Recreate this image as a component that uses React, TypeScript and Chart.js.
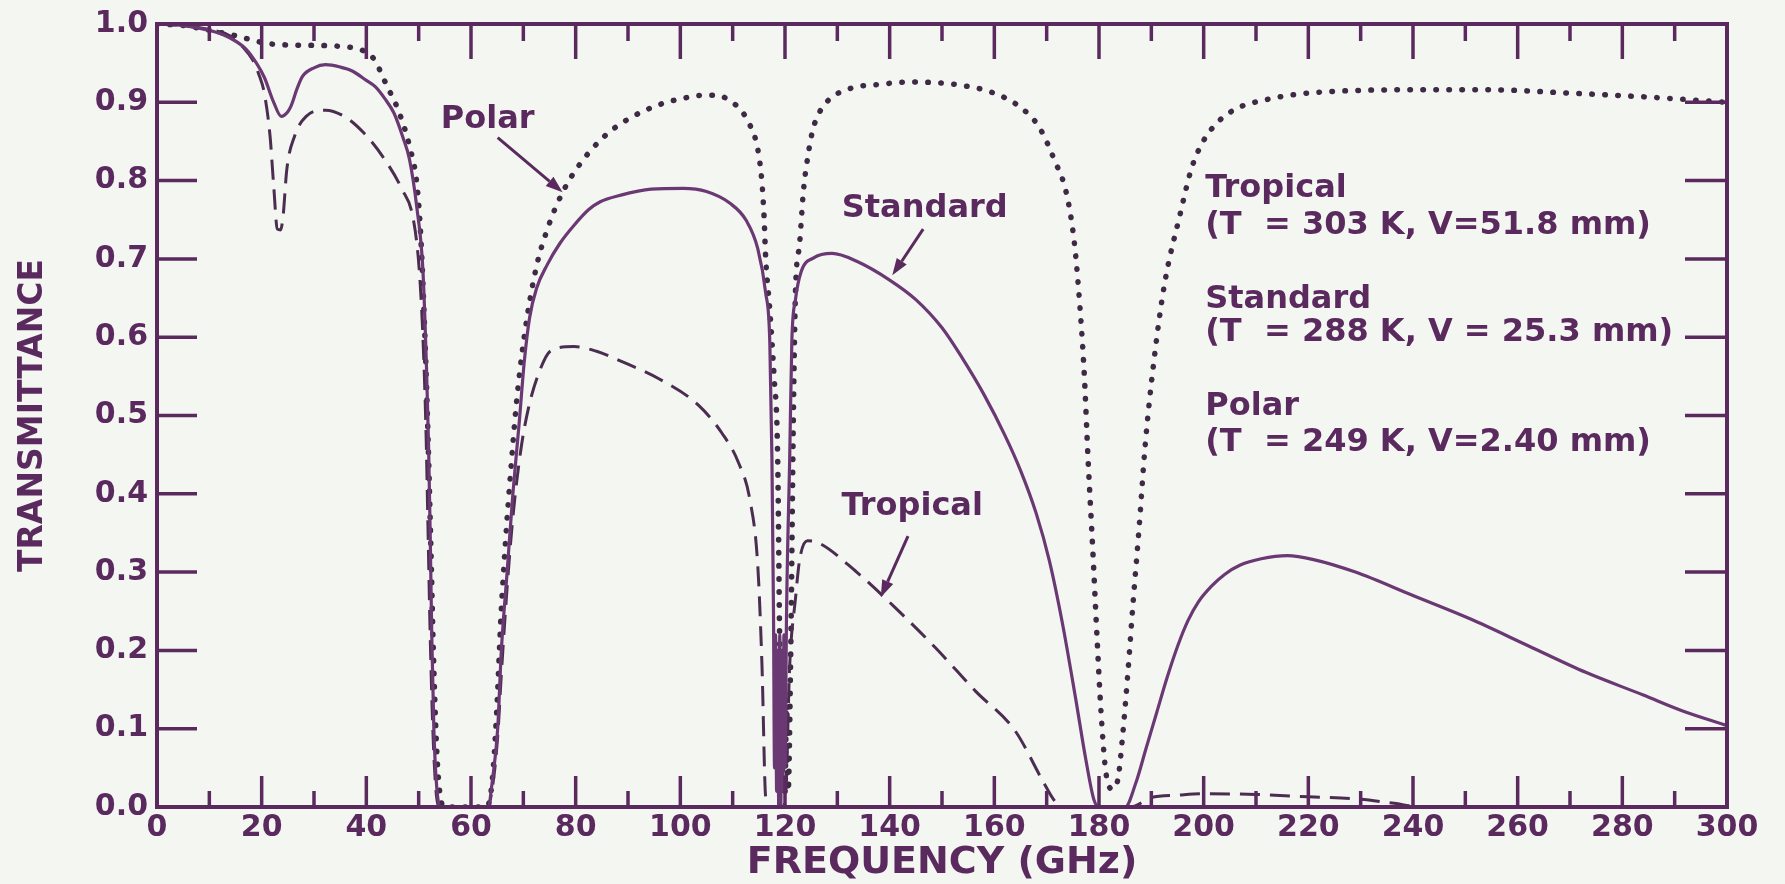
import { useEffect, useRef } from "react";
import { Chart, registerables } from "chart.js";

Chart.register(...registerables);

const WIDTH = 1785;
const HEIGHT = 884;

const INK = "#5a2a5e";
const SOLID = "#6a3873";
const DASHED = "#4b2d50";
const DOTTED = "#3e2a44";
const PAPER = "#f4f6f2";
const FONT = "'DejaVu Sans', 'Liberation Sans', Arial, sans-serif";

// Standard atmosphere (T = 288 K, V = 25.3 mm)
const standardFreq = [
  0, 5, 11, 14, 17, 19, 20.5, 22.3, 23.75, 25, 25.6, 26.8, 27.8, 30, 32.2, 35, 37.3, 40, 41.7, 43.5,
  45.3, 47, 48.25, 49.7, 50.8, 51.5, 51.9, 52.2, 52.5, 52.9, 53.4, 54.1, 60, 63.2, 64.2, 65.1, 65.8, 66.9, 68, 69.2,
  70.2, 71.2, 72.5, 74.6, 77, 79.7, 82.5, 84.7, 88.4, 94.4, 100.5, 105, 109.5, 112.6, 114.8, 116.3, 117.1, 117.5, 117.8, 118,
  118.2, 118.4, 118.6, 118.8, 119, 119.2, 119.4, 119.6, 119.8, 120, 120.3, 120.9, 121.3, 122, 123.1, 125.4, 129, 133.7, 140, 145,
  150, 154, 158, 162, 165, 168, 170.5, 173, 175.5, 177.5, 179, 180, 183, 185, 187, 189, 191, 193, 195, 197,
  199, 201.5, 204, 207, 211, 216, 221, 229, 240, 251, 262, 273, 284, 291.4, 300,
];
const standardTrans = [
  1.0, 0.998, 0.99, 0.982, 0.968, 0.95, 0.932, 0.9, 0.882, 0.888, 0.895, 0.918, 0.933, 0.944, 0.948, 0.945, 0.94, 0.928, 0.92, 0.905,
  0.886, 0.855, 0.827, 0.763, 0.687, 0.56, 0.46, 0.35, 0.22, 0.1, 0.03, 0.0, 0.0, 0.0, 0.04, 0.1, 0.2, 0.3, 0.4, 0.49,
  0.57, 0.625, 0.662, 0.693, 0.72, 0.743, 0.763, 0.773, 0.781, 0.789, 0.79, 0.786, 0.771, 0.749, 0.713, 0.657, 0.593, 0.446, 0.25, 0.05,
  0.22, 0.02, 0.2, 0.0, 0.22, 0.0, 0.2, 0.02, 0.22, 0.05, 0.25, 0.446, 0.593, 0.648, 0.684, 0.701, 0.707, 0.697, 0.673, 0.648,
  0.612, 0.572, 0.527, 0.475, 0.43, 0.375, 0.315, 0.235, 0.14, 0.06, 0.01, 0.0, 0.0, 0.0, 0.03, 0.075, 0.12, 0.165, 0.205, 0.238,
  0.262, 0.282, 0.297, 0.309, 0.317, 0.321, 0.316, 0.3, 0.27, 0.24, 0.206, 0.172, 0.143, 0.123, 0.104,
];

// Tropical atmosphere (T = 303 K, V = 51.8 mm)
const tropicalFreq = [
  0, 5, 10, 13.9, 16.5, 18.3, 19.5, 20.5, 21.6, 22.3, 23, 23.6, 24.1, 24.8, 26.3, 28.5, 32.2, 35.8, 39.5, 43.1,
  46.8, 49, 50.1, 50.8, 51.4, 51.8, 52.2, 52.7, 53.2, 53.8, 63.2, 64.2, 65.1, 65.8, 66.9, 68, 69.5, 71, 73, 75.3,
  79.7, 84, 88.4, 95.9, 103.5, 108, 111.1, 113.3, 114.8, 115.6, 116.3, 117, 119.5, 120.1, 120.9, 122, 122.8, 124.3, 126.2, 133.7,
  141.3, 148.8, 156.4, 164, 169.2, 171.5, 173, 186, 190, 195, 200, 210, 220, 230, 236, 242, 300,
];
const tropicalTrans = [
  1.0, 0.998, 0.993, 0.985, 0.97, 0.954, 0.935, 0.912, 0.857, 0.793, 0.738, 0.737, 0.755, 0.814, 0.857, 0.882, 0.89, 0.882, 0.861, 0.831,
  0.789, 0.75, 0.687, 0.602, 0.48, 0.35, 0.22, 0.1, 0.03, 0.0, 0.0, 0.03, 0.09, 0.17, 0.28, 0.37, 0.455, 0.51, 0.555, 0.583,
  0.588, 0.582, 0.57, 0.547, 0.513, 0.477, 0.44, 0.392, 0.308, 0.181, 0.013, 0.0, 0.0, 0.013, 0.181, 0.266, 0.316, 0.34, 0.338, 0.3,
  0.253, 0.203, 0.148, 0.097, 0.034, 0.008, 0.0, 0.0, 0.012, 0.015, 0.017, 0.016, 0.013, 0.01, 0.005, 0.0, 0.0,
];

// Polar atmosphere (T = 249 K, V = 2.40 mm)
const polarFreq = [
  0, 5, 10, 15, 21.2, 27, 35.8, 40.2, 41.8, 43.1, 44.6, 46.1, 48.25, 49.7, 50.4, 51.2, 51.8, 52.3, 52.8, 53.4,
  54.1, 55, 63, 64, 64.9, 65.7, 66.6, 67.6, 68.7, 70.2, 72.4, 74.8, 77.5, 80.8, 85.4, 89.9, 96, 101.2, 104.3, 106.9,
  109.5, 111.8, 113.3, 114.8, 115.6, 116, 116.3, 117.1, 117.9, 118.6, 119, 119.4, 119.7, 120, 120.3, 120.6, 121.1, 121.6, 122, 122.8,
  123.5, 124.3, 125.4, 127.7, 132.2, 138.3, 144.3, 148.8, 153.4, 159.4, 164.7, 168.5, 171.5, 173.8, 175.3, 176.4, 177.2, 177.9, 178.8, 179.6,
  180.4, 181.3, 182.5, 183.6, 184.5, 185.5, 186.5, 187.7, 188.8, 190.5, 192.5, 195.5, 197.7, 199.9, 202.9, 206.6, 211.7, 217.6, 225, 239.7,
  254.5, 269.2, 284, 300,
];
const polarTrans = [
  1.0, 0.998, 0.992, 0.985, 0.975, 0.973, 0.971, 0.963, 0.952, 0.933, 0.912, 0.89, 0.844, 0.793, 0.729, 0.6, 0.47, 0.34, 0.2, 0.08,
  0.015, 0.0, 0.0, 0.03, 0.12, 0.24, 0.34, 0.43, 0.517, 0.602, 0.687, 0.742, 0.785, 0.821, 0.856, 0.878, 0.897, 0.906, 0.909, 0.909,
  0.902, 0.888, 0.871, 0.84, 0.797, 0.754, 0.703, 0.635, 0.551, 0.446, 0.2, 0.02, 0.15, 0.02, 0.14, 0.02, 0.2, 0.5, 0.657, 0.72,
  0.785, 0.828, 0.867, 0.898, 0.917, 0.923, 0.926, 0.925, 0.922, 0.913, 0.895, 0.869, 0.826, 0.783, 0.72, 0.635, 0.551, 0.446, 0.33, 0.22,
  0.12, 0.045, 0.023, 0.035, 0.09, 0.17, 0.26, 0.36, 0.46, 0.57, 0.667, 0.757, 0.816, 0.85, 0.876, 0.893, 0.903, 0.91, 0.914, 0.916,
  0.916, 0.912, 0.907, 0.9,
];

// Curve names written inside the plot, with the arrow pointing at each curve (GHz, transmittance)
const curveLabels = [
  { text: "Polar", at: [63.2, 0.878], from: [65.1, 0.855], to: [77.5, 0.785] },
  { text: "Standard", at: [146.7, 0.764], from: [146.4, 0.738], to: [140.5, 0.679] },
  { text: "Tropical", at: [144.3, 0.384], from: [143.5, 0.346], to: [138.3, 0.268] },
];

// Atmosphere descriptions on the right-hand side
const legendLines = [
  "Tropical",
  "(T  = 303 K, V=51.8 mm)",
  "Standard",
  "(T  = 288 K, V = 25.3 mm)",
  "Polar",
  "(T  = 249 K, V=2.40 mm)",
];
const legendLeft = 200.3;
const legendRows = [0.79, 0.743, 0.648, 0.606, 0.511, 0.465];

const toPoints = (xs: number[], ys: number[]) => xs.map((x, i) => ({ x, y: ys[i] }));

const drawArrow = (ctx: CanvasRenderingContext2D, x1: number, y1: number, x2: number, y2: number) => {
  const ang = Math.atan2(y2 - y1, x2 - x1);
  const head = 17;
  const half = 6;
  const bx = x2 - head * Math.cos(ang);
  const by = y2 - head * Math.sin(ang);
  ctx.beginPath();
  ctx.moveTo(x1, y1);
  ctx.lineTo(bx, by);
  ctx.stroke();
  ctx.beginPath();
  ctx.moveTo(x2, y2);
  ctx.lineTo(bx + half * Math.sin(ang), by - half * Math.cos(ang));
  ctx.lineTo(bx - half * Math.sin(ang), by + half * Math.cos(ang));
  ctx.closePath();
  ctx.fill();
};

const framePlugin = {
  id: "paperFrame",
  beforeDraw(chart: any) {
    const { ctx } = chart;
    ctx.save();
    ctx.fillStyle = PAPER;
    ctx.fillRect(0, 0, chart.width, chart.height);
    ctx.restore();
  },
  afterDatasetsDraw(chart: any) {
    const { ctx, chartArea: a } = chart;
    const xs = chart.scales.x;
    const ys = chart.scales.y;
    const seg = (x1: number, y1: number, x2: number, y2: number) => {
      ctx.beginPath();
      ctx.moveTo(x1, y1);
      ctx.lineTo(x2, y2);
      ctx.stroke();
    };
    ctx.save();
    ctx.strokeStyle = INK;
    ctx.fillStyle = INK;
    ctx.lineCap = "butt";
    ctx.lineWidth = 3.5;

    // inward tick marks on all four sides
    const xt = xs.ticks.map((t: any) => t.value);
    xt.forEach((v: number) => {
      if (v <= xs.min || v >= xs.max) return;
      const px = xs.getPixelForValue(v);
      seg(px, a.bottom, px, a.bottom - 31);
      seg(px, a.top, px, a.top + 35);
    });
    for (let i = 0; i < xt.length - 1; i++) {
      const px = xs.getPixelForValue((xt[i] + xt[i + 1]) / 2);
      seg(px, a.bottom, px, a.bottom - 16);
      seg(px, a.top, px, a.top + 17);
    }
    ys.ticks.forEach((t: any) => {
      if (t.value <= ys.min + 1e-9 || t.value >= ys.max - 1e-9) return;
      const py = ys.getPixelForValue(t.value);
      seg(a.left, py, a.left + 40, py);
      seg(a.right, py, a.right - 42, py);
    });

    ctx.lineWidth = 4;
    ctx.strokeRect(a.left, a.top, a.right - a.left, a.bottom - a.top);

    // curve names and arrows
    ctx.lineWidth = 3;
    ctx.font = `bold 32px ${FONT}`;
    ctx.textAlign = "center";
    ctx.textBaseline = "middle";
    curveLabels.forEach((l) => {
      ctx.fillText(l.text, xs.getPixelForValue(l.at[0]), ys.getPixelForValue(l.at[1]));
      drawArrow(
        ctx,
        xs.getPixelForValue(l.from[0]),
        ys.getPixelForValue(l.from[1]),
        xs.getPixelForValue(l.to[0]),
        ys.getPixelForValue(l.to[1])
      );
    });

    // atmosphere descriptions
    ctx.textAlign = "left";
    legendLines.forEach((txt, i) => {
      ctx.fillText(txt, xs.getPixelForValue(legendLeft), ys.getPixelForValue(legendRows[i]));
    });
    ctx.restore();
  },
};

export default function App() {
  const canvasRef = useRef<HTMLCanvasElement | null>(null);

  useEffect(() => {
    const canvas = canvasRef.current;
    if (!canvas) return;
    const tickFont = { family: FONT, size: 30, weight: "bold" as const, lineHeight: 1.0 };
    const chart = new Chart(canvas, {
      type: "line",
      data: {
        datasets: [
          {
            label: "Standard",
            data: toPoints(standardFreq, standardTrans),
            borderColor: SOLID,
            borderWidth: 3.2,
            pointRadius: 0,
            cubicInterpolationMode: "monotone",
            fill: false,
          },
          {
            label: "Tropical",
            data: toPoints(tropicalFreq, tropicalTrans),
            borderColor: DASHED,
            borderWidth: 3,
            borderDash: [20, 10],
            pointRadius: 0,
            cubicInterpolationMode: "monotone",
            fill: false,
          },
          {
            label: "Polar",
            data: toPoints(polarFreq, polarTrans),
            borderColor: DOTTED,
            borderWidth: 5.5,
            borderDash: [0.5, 12.5],
            borderCapStyle: "round",
            pointRadius: 0,
            cubicInterpolationMode: "monotone",
            fill: false,
          },
        ],
      },
      options: {
        responsive: false,
        animation: false,
        devicePixelRatio: 1,
        layout: { padding: { left: 0, right: 58, top: 18, bottom: 0 } },
        plugins: { legend: { display: false }, tooltip: { enabled: false } },
        scales: {
          x: {
            type: "linear",
            min: 0,
            max: 300,
            afterFit: (s: any) => {
              s.height = 77;
            },
            grid: { display: false, drawTicks: false },
            border: { display: false },
            ticks: { stepSize: 20, autoSkip: false, maxRotation: 0, color: INK, font: tickFont, padding: 6 },
            title: {
              display: true,
              text: "FREQUENCY (GHz)",
              color: INK,
              font: { family: FONT, size: 38, weight: "bold", lineHeight: 1.1 },
              padding: 0,
            },
          },
          y: {
            type: "linear",
            min: 0,
            max: 1,
            afterFit: (s: any) => {
              s.width = 157;
            },
            grid: { display: false, drawTicks: false },
            border: { display: false },
            ticks: {
              stepSize: 0.1,
              color: INK,
              font: tickFont,
              padding: 9,
              callback: (v: any) => Number(v).toFixed(1),
            },
            title: {
              display: true,
              text: "TRANSMITTANCE",
              color: INK,
              font: { family: FONT, size: 33, weight: "bold", lineHeight: 1.2 },
              padding: { top: 14, bottom: 0 },
            },
          },
        },
      },
      plugins: [framePlugin],
    });
    return () => chart.destroy();
  }, []);

  return (
    <div style={{ position: "fixed", left: 0, top: 0, width: WIDTH, height: HEIGHT, background: PAPER }}>
      <canvas ref={canvasRef} width={WIDTH} height={HEIGHT} style={{ display: "block" }} />
    </div>
  );
}
